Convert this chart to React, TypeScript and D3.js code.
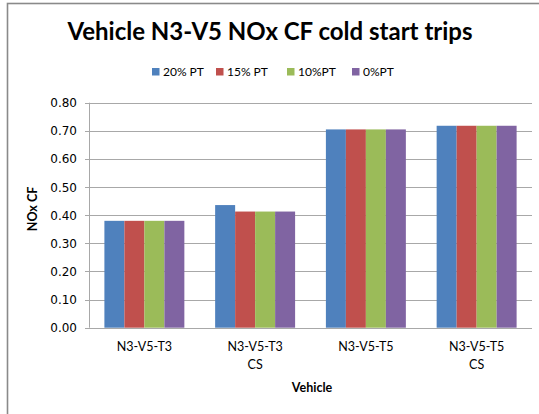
import React from "react";
import * as d3 from "d3";

const categories = ["N3-V5-T3|", "N3-V5-T3|CS", "N3-V5-T5|", "N3-V5-T5|CS"];
const seriesNames = ["20% PT", "15% PT", "10%PT", "0%PT"];
const seriesColors = ["#4F81BD", "#C0504D", "#9BBB59", "#8064A2"];
const values20 = [0.38, 0.436, 0.705, 0.718];
const values15 = [0.38, 0.413, 0.705, 0.718];
const values10 = [0.38, 0.413, 0.705, 0.718];
const values0 = [0.38, 0.413, 0.705, 0.718];
const yTicks = [0, 0.1, 0.2, 0.3, 0.4, 0.5, 0.6, 0.7, 0.8];

const seriesValues = [values20, values15, values10, values0];

const W = 539;
const H = 414;
const plot = { left: 89, right: 532, top: 102.7, bottom: 327.7 };
const FONT = "Lato, 'Open Sans', 'Liberation Sans', sans-serif";
const GRID = "#a8a8a8";

export default function App() {
  const x = d3
    .scaleBand<string>()
    .domain(categories)
    .range([plot.left, plot.right])
    .paddingInner(0.278)
    .paddingOuter(0.139);
  const xs = d3
    .scaleBand<string>()
    .domain(seriesNames)
    .range([0, x.bandwidth()]);
  const y = d3.scaleLinear().domain([0, 0.8]).range([plot.bottom, plot.top]);

  const legendX = [152, 216, 287, 352];

  return (
    <svg
      width={W}
      height={H}
      style={{ position: "absolute", left: 0, top: 0, background: "#fff" }}
      fontFamily={FONT}
    >
      <rect x={0} y={0} width={W} height={H} fill="#fff" />
      <rect
        x={7.5}
        y={3.5}
        width={W + 10}
        height={H + 10}
        fill="none"
        stroke="#8a8a8a"
        strokeWidth={1.6}
      />
      <text
        x={270}
        y={40}
        textAnchor="middle"
        fontSize={24}
        fontWeight="bold"
        fill="#000"
      >
        Vehicle N3-V5 NOx CF cold start trips
      </text>

      {seriesNames.map((s, i) => (
        <g key={s}>
          <rect x={legendX[i]} y={68} width={7.5} height={7.5} fill={seriesColors[i]} />
          <text x={legendX[i] + 11} y={75.5} fontSize={12} fill="#000">
            {s}
          </text>
        </g>
      ))}

      {yTicks.map((t) => (
        <g key={t}>
          <line
            x1={plot.left}
            x2={plot.right}
            y1={Math.round(y(t)) + 0.5}
            y2={Math.round(y(t)) + 0.5}
            stroke={GRID}
            strokeWidth={1}
          />
          <line
            x1={plot.left - 4}
            x2={plot.left}
            y1={Math.round(y(t)) + 0.5}
            y2={Math.round(y(t)) + 0.5}
            stroke={GRID}
          />
          <text
            x={77}
            y={y(t) + 4.5}
            textAnchor="end"
            fontSize={12}
            fontFamily="'DejaVu Sans', sans-serif"
            fill="#000"
          >
            {t.toFixed(2)}
          </text>
        </g>
      ))}
      <line
        x1={plot.left + 0.5}
        x2={plot.left + 0.5}
        y1={plot.top}
        y2={plot.bottom}
        stroke={GRID}
      />

      {categories.map((c, ci) => (
        <g key={c}>
          {seriesNames.map((s, si) => {
            const v = seriesValues[si][ci];
            return (
              <rect
                key={s}
                x={(x(c) as number) + (xs(s) as number)}
                y={y(v)}
                width={xs.bandwidth()}
                height={y(0) - y(v)}
                fill={seriesColors[si]}
              />
            );
          })}
          {c.split("|").map((line, li) => (
            <text
              key={li}
              x={(x(c) as number) + x.bandwidth() / 2}
              y={351 + li * 18}
              textAnchor="middle"
              fontSize={12.5}
              fill="#000"
            >
              {line}
            </text>
          ))}
        </g>
      ))}

      <text
        x={312}
        y={392}
        textAnchor="middle"
        fontSize={12.5}
        fontWeight="bold"
        fill="#000"
      >
        Vehicle
      </text>
      <text
        transform={`translate(37,209) rotate(-90)`}
        textAnchor="middle"
        fontSize={12.5}
        fontWeight="bold"
        fill="#000"
      >
        NOx CF
      </text>
    </svg>
  );
}
